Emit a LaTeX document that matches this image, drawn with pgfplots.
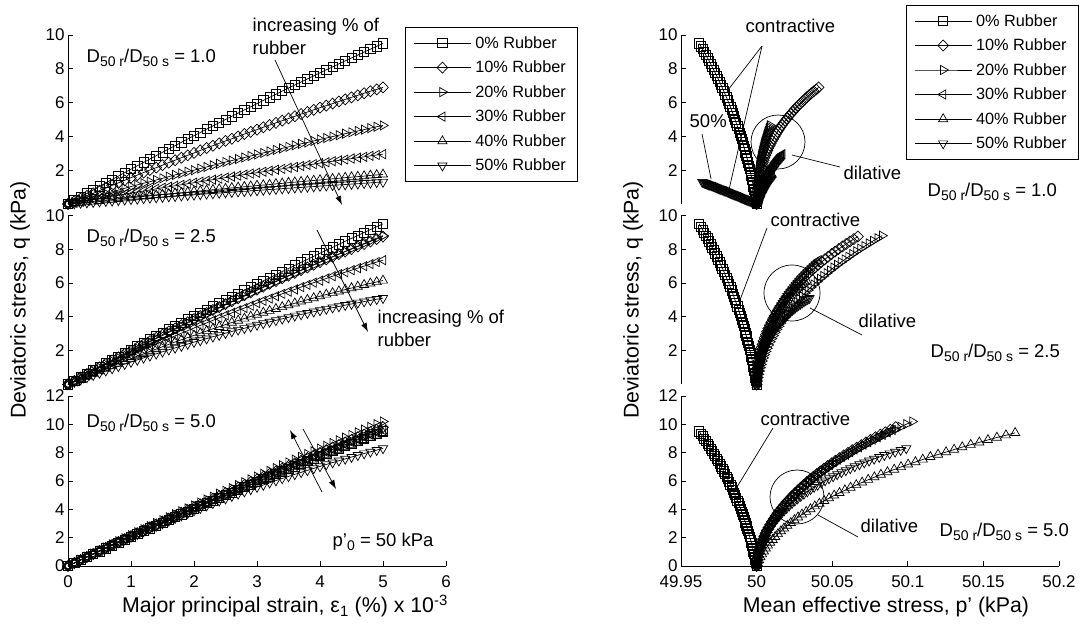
\documentclass[border=0pt]{standalone}
\usepackage{fontspec}
\setmainfont{Liberation Sans}
\usepackage{pgfplots}
\usepackage{pgfplotstable}
\pgfplotsset{compat=1.18}
\usetikzlibrary{arrows.meta}

\newcommand\tickfont{\fontsize{17}{17}\selectfont}
\newcommand\annfont{\fontsize{18.5}{21}\selectfont}
\newcommand\labfont{\fontsize{21.3}{25}\selectfont}
\newcommand\legfont{\fontsize{16.3}{18}\selectfont}
% lowered subscript at about three quarters of the running size
\newcommand\sub[1]{\raisebox{-0.38ex}{\fontsize{14}{14}\selectfont #1}}
\newcommand\ratio{D\sub{50 r}/D\sub{50 s}}

% pure sand (0% rubber): strain e (x1e-3 %), deviatoric stress q (kPa), mean effective stress p (kPa)
\pgfplotstableread{
e q p
0.0 0.00 50.0000
0.1 0.21 49.9996
0.2 0.42 49.9992
0.3 0.63 49.9988
0.4 0.83 49.9984
0.5 1.04 49.9979
0.6 1.25 49.9974
0.7 1.45 49.9970
0.8 1.65 49.9965
0.9 1.86 49.9960
1.0 2.06 49.9954
1.1 2.26 49.9949
1.2 2.46 49.9943
1.3 2.66 49.9938
1.4 2.86 49.9932
1.5 3.06 49.9926
1.6 3.26 49.9920
1.7 3.45 49.9913
1.8 3.65 49.9907
1.9 3.85 49.9900
2.0 4.04 49.9894
2.1 4.23 49.9887
2.2 4.43 49.9880
2.3 4.62 49.9872
2.4 4.81 49.9865
2.5 5.00 49.9857
2.6 5.19 49.9850
2.7 5.38 49.9842
2.8 5.57 49.9834
2.9 5.75 49.9826
3.0 5.94 49.9818
3.1 6.13 49.9809
3.2 6.31 49.9801
3.3 6.49 49.9792
3.4 6.68 49.9783
3.5 6.86 49.9774
3.6 7.04 49.9765
3.7 7.22 49.9755
3.8 7.40 49.9746
3.9 7.58 49.9736
4.0 7.76 49.9726
4.1 7.94 49.9716
4.2 8.11 49.9706
4.3 8.29 49.9696
4.4 8.47 49.9686
4.5 8.64 49.9675
4.6 8.81 49.9664
4.7 8.99 49.9653
4.8 9.16 49.9642
4.9 9.33 49.9631
5.0 9.50 49.9620
}\sand

% D50r/D50s = 1.0
\pgfplotstableread{
e q10 q20 q30 q40 q50 p10 p20 p30 p40 p50
0.0 0.00 0.00 0.00 0.00 0.00 50.0000 50.0000 50.0000 50.0000 50.0000
0.1 0.16 0.10 0.07 0.04 0.03 50.0000 50.0000 50.0002 50.0001 49.9993
0.2 0.32 0.21 0.13 0.08 0.06 50.0001 50.0000 50.0004 50.0002 49.9986
0.3 0.48 0.31 0.20 0.11 0.08 50.0001 50.0000 50.0005 50.0003 49.9978
0.4 0.63 0.42 0.26 0.15 0.11 50.0003 50.0001 50.0007 50.0004 49.9971
0.5 0.79 0.52 0.33 0.19 0.14 50.0004 50.0001 50.0009 50.0006 49.9964
0.6 0.94 0.62 0.39 0.23 0.17 50.0006 50.0001 50.0011 50.0007 49.9957
0.7 1.10 0.72 0.46 0.26 0.19 50.0008 50.0002 50.0014 50.0008 49.9950
0.8 1.25 0.82 0.52 0.30 0.22 50.0010 50.0002 50.0016 50.0009 49.9942
0.9 1.40 0.93 0.58 0.34 0.25 50.0013 50.0003 50.0018 50.0011 49.9935
1.0 1.56 1.03 0.65 0.37 0.28 50.0016 50.0004 50.0020 50.0012 49.9928
1.1 1.71 1.13 0.71 0.41 0.30 50.0020 50.0004 50.0023 50.0013 49.9921
1.2 1.86 1.23 0.77 0.45 0.33 50.0024 50.0005 50.0025 50.0015 49.9914
1.3 2.01 1.32 0.83 0.48 0.36 50.0028 50.0006 50.0028 50.0016 49.9906
1.4 2.15 1.42 0.90 0.52 0.38 50.0032 50.0007 50.0030 50.0018 49.9899
1.5 2.30 1.52 0.96 0.56 0.41 50.0037 50.0008 50.0033 50.0020 49.9892
1.6 2.45 1.62 1.02 0.59 0.44 50.0042 50.0009 50.0036 50.0021 49.9885
1.7 2.59 1.72 1.08 0.63 0.46 50.0047 50.0010 50.0039 50.0023 49.9878
1.8 2.74 1.81 1.14 0.66 0.49 50.0053 50.0012 50.0042 50.0024 49.9870
1.9 2.88 1.91 1.20 0.70 0.52 50.0059 50.0013 50.0045 50.0026 49.9863
2.0 3.02 2.00 1.26 0.74 0.54 50.0066 50.0014 50.0048 50.0028 49.9856
2.1 3.17 2.10 1.32 0.77 0.57 50.0072 50.0016 50.0051 50.0030 49.9849
2.2 3.31 2.19 1.38 0.81 0.60 50.0079 50.0017 50.0054 50.0032 49.9842
2.3 3.45 2.29 1.44 0.84 0.62 50.0087 50.0019 50.0057 50.0034 49.9834
2.4 3.59 2.38 1.50 0.88 0.65 50.0094 50.0021 50.0060 50.0036 49.9827
2.5 3.73 2.48 1.56 0.91 0.68 50.0102 50.0022 50.0064 50.0038 49.9820
2.6 3.86 2.57 1.62 0.95 0.70 50.0111 50.0024 50.0067 50.0040 49.9813
2.7 4.00 2.66 1.68 0.98 0.73 50.0120 50.0026 50.0071 50.0042 49.9806
2.8 4.14 2.75 1.74 1.02 0.75 50.0129 50.0028 50.0074 50.0044 49.9798
2.9 4.27 2.84 1.80 1.05 0.78 50.0138 50.0030 50.0078 50.0046 49.9791
3.0 4.40 2.93 1.85 1.09 0.80 50.0148 50.0032 50.0082 50.0048 49.9784
3.1 4.54 3.02 1.91 1.12 0.83 50.0158 50.0035 50.0085 50.0050 49.9777
3.2 4.67 3.11 1.97 1.15 0.86 50.0168 50.0037 50.0089 50.0052 49.9770
3.3 4.80 3.20 2.03 1.19 0.88 50.0179 50.0039 50.0093 50.0055 49.9762
3.4 4.93 3.29 2.08 1.22 0.91 50.0190 50.0042 50.0097 50.0057 49.9755
3.5 5.06 3.38 2.14 1.26 0.93 50.0201 50.0044 50.0101 50.0060 49.9748
3.6 5.19 3.47 2.19 1.29 0.96 50.0213 50.0047 50.0105 50.0062 49.9741
3.7 5.32 3.56 2.25 1.32 0.98 50.0225 50.0049 50.0109 50.0064 49.9734
3.8 5.44 3.64 2.31 1.36 1.01 50.0237 50.0052 50.0114 50.0067 49.9726
3.9 5.57 3.73 2.36 1.39 1.03 50.0249 50.0055 50.0118 50.0069 49.9719
4.0 5.70 3.82 2.42 1.42 1.06 50.0262 50.0058 50.0122 50.0072 49.9712
4.1 5.82 3.90 2.47 1.46 1.08 50.0276 50.0061 50.0127 50.0075 49.9705
4.2 5.94 3.99 2.53 1.49 1.11 50.0289 50.0064 50.0131 50.0077 49.9698
4.3 6.07 4.07 2.58 1.52 1.13 50.0303 50.0067 50.0136 50.0080 49.9690
4.4 6.19 4.16 2.63 1.56 1.15 50.0318 50.0070 50.0141 50.0083 49.9683
4.5 6.31 4.24 2.69 1.59 1.18 50.0332 50.0073 50.0145 50.0086 49.9676
4.6 6.43 4.32 2.74 1.62 1.20 50.0347 50.0076 50.0150 50.0088 49.9669
4.7 6.55 4.40 2.79 1.65 1.23 50.0362 50.0080 50.0155 50.0091 49.9662
4.8 6.67 4.49 2.85 1.69 1.25 50.0378 50.0083 50.0160 50.0094 49.9654
4.9 6.78 4.57 2.90 1.72 1.28 50.0394 50.0086 50.0165 50.0097 49.9647
5.0 6.90 4.65 2.95 1.75 1.30 50.0410 50.0090 50.0170 50.0100 49.9640
}\tabA

% D50r/D50s = 2.5
\pgfplotstableread{
e q10 q20 q30 q40 q50 p10 p20 p30 p40 p50
0.0 0.00 0.00 0.00 0.00 0.00 50.0000 50.0000 50.0000 50.0000 50.0000
0.1 0.20 0.20 0.18 0.16 0.14 50.0000 50.0004 50.0002 50.0001 50.0002
0.2 0.41 0.40 0.36 0.32 0.28 50.0001 50.0008 50.0004 50.0003 50.0003
0.3 0.61 0.60 0.53 0.47 0.41 50.0002 50.0012 50.0006 50.0005 50.0005
0.4 0.81 0.79 0.71 0.63 0.55 50.0004 50.0018 50.0009 50.0007 50.0007
0.5 1.01 0.99 0.88 0.78 0.68 50.0007 50.0023 50.0011 50.0009 50.0010
0.6 1.21 1.18 1.06 0.93 0.81 50.0010 50.0029 50.0015 50.0012 50.0012
0.7 1.41 1.38 1.23 1.08 0.94 50.0013 50.0036 50.0018 50.0014 50.0015
0.8 1.60 1.57 1.40 1.23 1.07 50.0017 50.0044 50.0022 50.0017 50.0018
0.9 1.80 1.76 1.57 1.38 1.20 50.0022 50.0051 50.0025 50.0020 50.0022
1.0 1.99 1.95 1.73 1.53 1.32 50.0027 50.0060 50.0030 50.0024 50.0025
1.1 2.18 2.14 1.90 1.67 1.45 50.0032 50.0069 50.0034 50.0027 50.0029
1.2 2.37 2.33 2.06 1.81 1.57 50.0039 50.0078 50.0039 50.0031 50.0033
1.3 2.56 2.52 2.23 1.95 1.69 50.0045 50.0088 50.0043 50.0035 50.0037
1.4 2.75 2.71 2.39 2.09 1.81 50.0053 50.0099 50.0049 50.0039 50.0042
1.5 2.94 2.89 2.55 2.23 1.93 50.0060 50.0110 50.0054 50.0044 50.0046
1.6 3.13 3.08 2.71 2.37 2.05 50.0069 50.0121 50.0060 50.0048 50.0051
1.7 3.31 3.26 2.87 2.51 2.16 50.0077 50.0133 50.0066 50.0053 50.0056
1.8 3.50 3.44 3.03 2.64 2.27 50.0087 50.0146 50.0072 50.0058 50.0061
1.9 3.68 3.63 3.18 2.77 2.39 50.0097 50.0159 50.0079 50.0063 50.0067
2.0 3.86 3.81 3.34 2.90 2.50 50.0107 50.0173 50.0085 50.0069 50.0073
2.1 4.04 3.99 3.49 3.03 2.60 50.0118 50.0187 50.0092 50.0074 50.0079
2.2 4.22 4.17 3.64 3.16 2.71 50.0130 50.0202 50.0100 50.0080 50.0085
2.3 4.40 4.35 3.79 3.29 2.82 50.0142 50.0217 50.0107 50.0086 50.0091
2.4 4.57 4.52 3.94 3.41 2.92 50.0154 50.0233 50.0115 50.0093 50.0098
2.5 4.75 4.70 4.09 3.54 3.03 50.0168 50.0249 50.0123 50.0099 50.0105
2.6 4.92 4.88 4.23 3.66 3.13 50.0181 50.0266 50.0131 50.0106 50.0112
2.7 5.10 5.05 4.38 3.78 3.23 50.0195 50.0283 50.0140 50.0113 50.0119
2.8 5.27 5.22 4.52 3.90 3.32 50.0210 50.0301 50.0149 50.0120 50.0127
2.9 5.44 5.40 4.66 4.02 3.42 50.0225 50.0320 50.0158 50.0127 50.0135
3.0 5.61 5.57 4.81 4.13 3.52 50.0241 50.0339 50.0167 50.0135 50.0143
3.1 5.78 5.74 4.95 4.25 3.61 50.0258 50.0358 50.0177 50.0142 50.0151
3.2 5.95 5.91 5.08 4.36 3.70 50.0274 50.0378 50.0187 50.0150 50.0159
3.3 6.11 6.08 5.22 4.47 3.79 50.0292 50.0399 50.0197 50.0159 50.0168
3.4 6.28 6.25 5.36 4.58 3.88 50.0310 50.0420 50.0207 50.0167 50.0177
3.5 6.44 6.41 5.49 4.69 3.97 50.0328 50.0442 50.0218 50.0176 50.0186
3.6 6.60 6.58 5.62 4.80 4.06 50.0347 50.0464 50.0229 50.0184 50.0196
3.7 6.76 6.74 5.76 4.91 4.14 50.0367 50.0486 50.0240 50.0193 50.0205
3.8 6.92 6.91 5.89 5.01 4.22 50.0387 50.0510 50.0252 50.0203 50.0215
3.9 7.08 7.07 6.02 5.11 4.30 50.0408 50.0533 50.0264 50.0212 50.0225
4.0 7.24 7.23 6.14 5.22 4.38 50.0429 50.0558 50.0276 50.0222 50.0235
4.1 7.40 7.39 6.27 5.32 4.46 50.0451 50.0583 50.0288 50.0232 50.0246
4.2 7.55 7.55 6.40 5.41 4.54 50.0473 50.0608 50.0300 50.0242 50.0256
4.3 7.71 7.71 6.52 5.51 4.61 50.0496 50.0634 50.0313 50.0252 50.0267
4.4 7.86 7.87 6.64 5.61 4.69 50.0519 50.0660 50.0326 50.0263 50.0278
4.5 8.01 8.03 6.76 5.70 4.76 50.0543 50.0687 50.0339 50.0273 50.0290
4.6 8.16 8.18 6.88 5.79 4.83 50.0567 50.0715 50.0353 50.0284 50.0301
4.7 8.31 8.34 7.00 5.89 4.90 50.0592 50.0743 50.0367 50.0295 50.0313
4.8 8.46 8.49 7.12 5.98 4.97 50.0617 50.0771 50.0381 50.0307 50.0325
4.9 8.60 8.65 7.24 6.06 5.04 50.0643 50.0800 50.0395 50.0318 50.0338
5.0 8.75 8.80 7.35 6.15 5.10 50.0670 50.0830 50.0410 50.0330 50.0350
}\tabB

% D50r/D50s = 5.0
\pgfplotstableread{
e q10 q20 q30 q40 q50 p10 p20 p30 p40 p50
0.0 0.00 0.00 0.00 0.00 0.00 50.0000 50.0000 50.0000 50.0000 50.0000
0.1 0.21 0.22 0.21 0.21 0.21 50.0002 50.0002 50.0002 50.0007 50.0002
0.2 0.43 0.44 0.43 0.42 0.43 50.0005 50.0006 50.0005 50.0016 50.0005
0.3 0.64 0.66 0.64 0.63 0.64 50.0009 50.0010 50.0008 50.0025 50.0009
0.4 0.85 0.87 0.85 0.83 0.84 50.0013 50.0014 50.0012 50.0036 50.0014
0.5 1.07 1.09 1.06 1.04 1.05 50.0017 50.0020 50.0017 50.0048 50.0019
0.6 1.28 1.31 1.27 1.24 1.25 50.0023 50.0026 50.0022 50.0061 50.0025
0.7 1.49 1.52 1.48 1.45 1.46 50.0029 50.0033 50.0028 50.0075 50.0031
0.8 1.70 1.74 1.69 1.65 1.66 50.0036 50.0040 50.0035 50.0090 50.0039
0.9 1.90 1.95 1.90 1.85 1.86 50.0043 50.0049 50.0042 50.0106 50.0047
1.0 2.11 2.17 2.10 2.06 2.05 50.0052 50.0058 50.0050 50.0123 50.0055
1.1 2.32 2.38 2.31 2.26 2.25 50.0060 50.0068 50.0059 50.0141 50.0065
1.2 2.53 2.59 2.51 2.46 2.44 50.0070 50.0078 50.0068 50.0161 50.0075
1.3 2.73 2.81 2.72 2.66 2.63 50.0080 50.0089 50.0078 50.0181 50.0086
1.4 2.94 3.02 2.92 2.85 2.82 50.0091 50.0102 50.0089 50.0203 50.0098
1.5 3.14 3.23 3.12 3.05 3.00 50.0102 50.0114 50.0100 50.0226 50.0110
1.6 3.34 3.44 3.32 3.25 3.19 50.0114 50.0128 50.0112 50.0250 50.0123
1.7 3.55 3.65 3.52 3.44 3.37 50.0127 50.0142 50.0124 50.0274 50.0137
1.8 3.75 3.86 3.72 3.64 3.55 50.0140 50.0157 50.0137 50.0300 50.0151
1.9 3.95 4.06 3.92 3.83 3.73 50.0155 50.0173 50.0151 50.0328 50.0166
2.0 4.15 4.27 4.12 4.02 3.91 50.0169 50.0190 50.0166 50.0356 50.0182
2.1 4.35 4.48 4.31 4.22 4.08 50.0185 50.0207 50.0181 50.0385 50.0199
2.2 4.55 4.69 4.51 4.41 4.26 50.0201 50.0225 50.0196 50.0415 50.0216
2.3 4.74 4.89 4.70 4.60 4.43 50.0218 50.0244 50.0213 50.0447 50.0234
2.4 4.94 5.10 4.90 4.79 4.60 50.0235 50.0263 50.0230 50.0479 50.0253
2.5 5.14 5.30 5.09 4.98 4.76 50.0253 50.0283 50.0248 50.0513 50.0272
2.6 5.33 5.50 5.28 5.16 4.93 50.0272 50.0304 50.0266 50.0548 50.0292
2.7 5.53 5.71 5.47 5.35 5.09 50.0291 50.0326 50.0285 50.0584 50.0313
2.8 5.72 5.91 5.66 5.54 5.25 50.0311 50.0348 50.0304 50.0621 50.0335
2.9 5.92 6.11 5.85 5.72 5.41 50.0332 50.0372 50.0325 50.0659 50.0357
3.0 6.11 6.31 6.04 5.90 5.57 50.0353 50.0396 50.0346 50.0698 50.0380
3.1 6.30 6.51 6.22 6.09 5.72 50.0375 50.0420 50.0367 50.0738 50.0404
3.2 6.49 6.71 6.41 6.27 5.88 50.0398 50.0446 50.0389 50.0779 50.0428
3.3 6.68 6.91 6.59 6.45 6.03 50.0421 50.0472 50.0412 50.0822 50.0453
3.4 6.87 7.11 6.78 6.63 6.18 50.0445 50.0499 50.0436 50.0865 50.0479
3.5 7.06 7.31 6.96 6.81 6.32 50.0470 50.0526 50.0460 50.0910 50.0506
3.6 7.25 7.51 7.14 6.99 6.47 50.0495 50.0555 50.0485 50.0955 50.0533
3.7 7.43 7.70 7.33 7.17 6.61 50.0521 50.0584 50.0510 50.1002 50.0561
3.8 7.62 7.90 7.51 7.34 6.75 50.0548 50.0614 50.0536 50.1050 50.0590
3.9 7.81 8.09 7.69 7.52 6.89 50.0576 50.0644 50.0563 50.1099 50.0619
4.0 7.99 8.29 7.86 7.70 7.03 50.0604 50.0676 50.0590 50.1149 50.0649
4.1 8.18 8.48 8.04 7.87 7.17 50.0632 50.0708 50.0618 50.1200 50.0680
4.2 8.36 8.68 8.22 8.04 7.30 50.0662 50.0741 50.0647 50.1253 50.0712
4.3 8.54 8.87 8.39 8.22 7.43 50.0692 50.0774 50.0676 50.1306 50.0744
4.4 8.72 9.06 8.57 8.39 7.56 50.0722 50.0809 50.0706 50.1360 50.0777
4.5 8.91 9.25 8.74 8.56 7.69 50.0753 50.0844 50.0737 50.1416 50.0811
4.6 9.09 9.44 8.92 8.73 7.82 50.0785 50.0879 50.0768 50.1473 50.0845
4.7 9.27 9.63 9.09 8.90 7.94 50.0818 50.0916 50.0800 50.1530 50.0880
4.8 9.44 9.82 9.26 9.07 8.06 50.0851 50.0953 50.0833 50.1589 50.0916
4.9 9.62 10.01 9.43 9.23 8.18 50.0885 50.0991 50.0866 50.1649 50.0953
5.0 9.80 10.20 9.60 9.40 8.30 50.0920 50.1030 50.0900 50.1710 50.0990
}\tabC

\pgfplotsset{
  panel/.style={
    scale only axis, width=378pt, height=169pt, anchor=south west,
    clip=false, ymin=0,
    axis y line*=left, tick align=inside, major tick length=5pt,
    axis line style={line width=0.8pt},
    every tick/.style={black, line width=0.8pt},
    tick label style={font=\tickfont},
    xticklabel style={yshift=-6pt},
    /pgf/number format/assume math mode=true,
  },
  top panel/.style={panel, axis x line=none, ymax=10, ytick={2,4,6,8,10}},
  bot panel/.style={panel, axis x line*=bottom, tick align=inside, height=170pt, ymax=12, ytick={0,2,4,6,8,10,12}},
  left col/.style={xmin=0, xmax=6},
  right col/.style={xmin=49.95, xmax=50.2, scaled x ticks=false},
  ser/.style={black, line width=0.7pt},
  s0/.style={ser, mark=square, mark size=4.6pt, mark options={solid, line width=0.7pt}},
  s10/.style={ser, mark=diamond, mark size=5.5pt, mark options={solid, line width=0.7pt, xscale=1.3}},
  s20/.style={ser, mark=triangle, mark size=5.3pt, mark options={solid, line width=0.7pt, rotate=-90}},
  s30/.style={ser, mark=triangle, mark size=5.3pt, mark options={solid, line width=0.7pt, rotate=90}},
  s40/.style={ser, mark=triangle, mark size=5.3pt, mark options={solid, line width=0.7pt}},
  s50/.style={ser, mark=triangle, mark size=5.3pt, mark options={solid, line width=0.7pt, rotate=180}},
  rubber legend/.style={
    legend cell align=left,
    legend style={anchor=north west, draw=black, line width=0.8pt, font=\legfont,
      row sep=7.2pt, inner xsep=8pt, inner ysep=7pt,
      nodes={inner xsep=4pt}},
    legend image code/.code={\draw[mark repeat=2,mark phase=2,##1] plot coordinates {(0pt,0pt) (28.5pt,0pt) (57pt,0pt)};},
  },
}

\begin{document}
\begin{tikzpicture}
\useasboundingbox (0pt,0pt) rectangle (1081pt,634pt);

% ---------- stress-strain, D50r/D50s = 1.0 ----------
\begin{axis}[top panel, left col, at={(68pt,430pt)}, rubber legend,
  legend style={at={(0.892,1.047)}}]
\addplot[s0] table[x=e,y=q]{\sand}; \addlegendentry{0\% Rubber}
\addplot[s10] table[x=e,y=q10]{\tabA}; \addlegendentry{10\% Rubber}
\addplot[s20] table[x=e,y=q20]{\tabA}; \addlegendentry{20\% Rubber}
\addplot[s30] table[x=e,y=q30]{\tabA}; \addlegendentry{30\% Rubber}
\addplot[s40] table[x=e,y=q40]{\tabA}; \addlegendentry{40\% Rubber}
\addplot[s50] table[x=e,y=q50]{\tabA}; \addlegendentry{50\% Rubber}
\end{axis}

% ---------- stress-strain, D50r/D50s = 2.5 ----------
\begin{axis}[top panel, left col, at={(68pt,249.6pt)}]
\addplot[s0] table[x=e,y=q]{\sand};
\addplot[s10] table[x=e,y=q10]{\tabB};
\addplot[s20] table[x=e,y=q20]{\tabB};
\addplot[s30] table[x=e,y=q30]{\tabB};
\addplot[s40] table[x=e,y=q40]{\tabB};
\addplot[s50] table[x=e,y=q50]{\tabB};
\end{axis}

% ---------- stress-strain, D50r/D50s = 5.0 ----------
\begin{axis}[bot panel, left col, at={(68pt,68pt)}, xtick={0,1,2,3,4,5,6}]
\addplot[s0] table[x=e,y=q]{\sand};
\addplot[s10] table[x=e,y=q10]{\tabC};
\addplot[s20] table[x=e,y=q20]{\tabC};
\addplot[s30] table[x=e,y=q30]{\tabC};
\addplot[s40] table[x=e,y=q40]{\tabC};
\addplot[s50] table[x=e,y=q50]{\tabC};
\end{axis}

% ---------- stress paths, D50r/D50s = 1.0 ----------
\begin{axis}[top panel, right col, at={(681pt,430pt)}, rubber legend,
  legend style={at={(0.595,1.178)}}]
\addplot[s0] table[x=p,y=q]{\sand}; \addlegendentry{0\% Rubber}
\addplot[s10] table[x=p10,y=q10]{\tabA}; \addlegendentry{10\% Rubber}
\addplot[s20] table[x=p20,y=q20]{\tabA}; \addlegendentry{20\% Rubber}
\addplot[s30] table[x=p30,y=q30]{\tabA}; \addlegendentry{30\% Rubber}
\addplot[s40] table[x=p40,y=q40]{\tabA}; \addlegendentry{40\% Rubber}
\addplot[s50] table[x=p50,y=q50]{\tabA}; \addlegendentry{50\% Rubber}
\end{axis}

% ---------- stress paths, D50r/D50s = 2.5 ----------
\begin{axis}[top panel, right col, at={(681pt,249.6pt)}]
\addplot[s0] table[x=p,y=q]{\sand};
\addplot[s10] table[x=p10,y=q10]{\tabB};
\addplot[s20] table[x=p20,y=q20]{\tabB};
\addplot[s30] table[x=p30,y=q30]{\tabB};
\addplot[s40] table[x=p40,y=q40]{\tabB};
\addplot[s50] table[x=p50,y=q50]{\tabB};
\end{axis}

% ---------- stress paths, D50r/D50s = 5.0 ----------
\begin{axis}[bot panel, right col, at={(681pt,68pt)},
  xtick={49.95,50,50.05,50.1,50.15,50.2},
  xticklabels={49.95,50,50.05,50.1,50.15,50.2}]
\addplot[s0] table[x=p,y=q]{\sand};
\addplot[s10] table[x=p10,y=q10]{\tabC};
\addplot[s20] table[x=p20,y=q20]{\tabC};
\addplot[s30] table[x=p30,y=q30]{\tabC};
\addplot[s40] table[x=p40,y=q40]{\tabC};
\addplot[s50] table[x=p50,y=q50]{\tabC};
\end{axis}

% ---------- axis titles ----------
\node[font=\labfont, rotate=90] at (20pt,334pt) {Deviatoric stress, q (kPa)};
\node[font=\labfont, rotate=90] at (633pt,334pt) {Deviatoric stress, q (kPa)};
\node[font=\labfont, anchor=base] at (285pt,21pt) {Major principal strain, ε\textsubscript{1} (\%) x 10\textsuperscript{-3}};
\node[font=\labfont, anchor=base] at (886pt,21pt) {Mean effective stress, p' (kPa)};

% ---------- annotations ----------
\begin{scope}[font=\annfont, line width=0.7pt]
\node[anchor=base west] at (83pt,571pt) {\ratio{} = 1.0};
\node[anchor=base west] at (83pt,391pt) {\ratio{} = 2.5};
\node[anchor=base west] at (83pt,206pt) {\ratio{} = 5.0};
\node[anchor=base west] at (249pt,602pt) {increasing \% of};
\node[anchor=base west] at (249pt,579pt) {rubber};
\node[anchor=base west] at (374pt,310pt) {increasing \% of};
\node[anchor=base west] at (374pt,287pt) {rubber};
\node[anchor=base west] at (329pt,87pt) {p'\sub{0} = 50 kPa};
\draw[-{Latex[length=9pt,width=6pt]}] (275pt,574pt) -- (342pt,429pt);
\draw[-{Latex[length=9pt,width=6pt]}] (317pt,404pt) -- (368pt,302pt);
\draw[-{Latex[length=9pt,width=6pt]}] (322pt,142pt) -- (290pt,204pt);
\draw[-{Latex[length=9pt,width=6pt]}] (303pt,205pt) -- (336pt,145pt);

\node[anchor=base west] at (742pt,601pt) {contractive};
\draw (762pt,588pt) -- (728pt,544pt);
\draw (762pt,588pt) -- (728pt,440pt);
\node[anchor=base west] at (686pt,506pt) {50\%};
\draw (702pt,500pt) -- (711pt,455pt);
\draw (778pt,492pt) circle[radius=27pt];
\node[anchor=base west] at (840pt,454pt) {dilative};
\draw (840pt,467pt) -- (792pt,479pt);
\node[anchor=base west] at (924pt,437pt) {\ratio{} = 1.0};

\node[anchor=base west] at (767pt,407pt) {contractive};
\draw (767pt,406pt) -- (740pt,334pt);
\draw (792pt,341pt) circle[radius=28pt];
\node[anchor=base west] at (855pt,306pt) {dilative};
\draw (862pt,299pt) -- (810pt,326pt);
\node[anchor=base west] at (927pt,276pt) {\ratio{} = 2.5};

\node[anchor=base west] at (757pt,208pt) {contractive};
\draw (773pt,206pt) -- (737pt,147pt);
\draw (797pt,137pt) circle[radius=27pt];
\node[anchor=base west] at (857pt,101pt) {dilative};
\draw (858pt,97pt) -- (818pt,119pt);
\node[anchor=base west] at (936pt,97pt) {\ratio{} = 5.0};
\end{scope}
\end{tikzpicture}
\end{document}
